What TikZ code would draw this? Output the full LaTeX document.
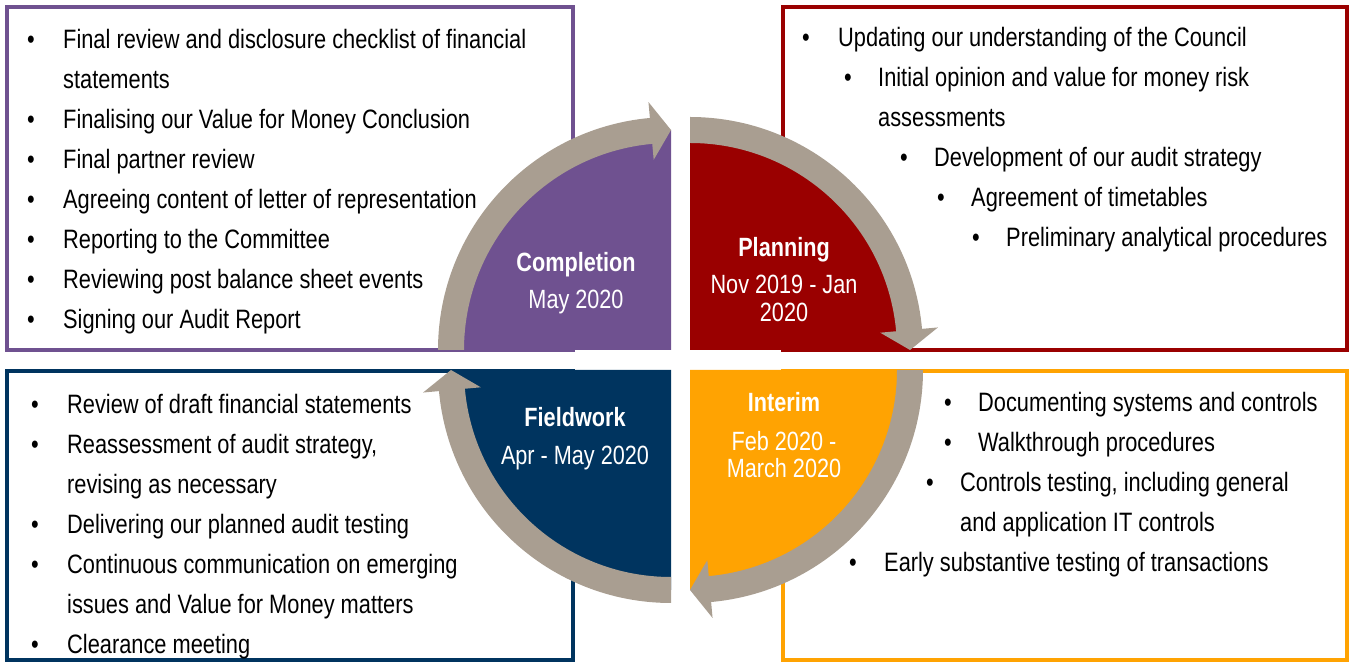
\documentclass[tikz,border=0pt]{standalone}
\usepackage{fontspec}
\setmainfont{Liberation Sans}[FakeStretch=0.82]
\usetikzlibrary{calc}
\definecolor{cPurple}{HTML}{6F5190}
\definecolor{cRed}{HTML}{9A0000}
\definecolor{cOrange}{HTML}{FFA302}
\definecolor{cNavy}{HTML}{00345F}
\definecolor{cRing}{HTML}{A99E91}
\newcommand{\ringarrow}[2]{%
  \pgfmathsetmacro\raEnd{#2-90}%
  \pgfmathsetmacro\raBase{#2-84.8}%
  \fill[cRing] ($(#1)+(#2:233pt)$) arc[start angle=#2, end angle=\raBase, radius=233pt]
    -- ($(#1)+(\raBase:249pt)$) -- ($(#1)+(\raEnd:220pt)$) -- ($(#1)+(\raBase:191pt)$)
    -- ($(#1)+(\raBase:207pt)$) arc[start angle=\raBase, end angle=#2, radius=207pt] -- cycle;}
\tikzset{
  box/.style={line width=4pt},
  txt/.style={anchor=base west, inner sep=0pt, font=\fontsize{26.6pt}{40pt}\selectfont},
  bul/.style={anchor=base, inner sep=0pt, font=\fontsize{26.6pt}{40pt}\selectfont},
  qhead/.style={anchor=base, inner sep=0pt, text=white, font=\fontsize{26.4pt}{30pt}\selectfont\bfseries},
  qdate/.style={anchor=base, inner sep=0pt, text=white, font=\fontsize{26.4pt}{30pt}\selectfont},
}
\begin{document}
\begin{tikzpicture}[x=1pt,y=1pt]
\useasboundingbox (0,0) rectangle (1354,663);
% boxes
\draw[box, cPurple] (7,656) rectangle (573,313);
\draw[box, cRed] (783,656) rectangle (1347,313);
\draw[box, cOrange] (783,292) rectangle (1347,3);
\draw[box, cNavy] (7,292) rectangle (573,3);
% quadrant corners
\coordinate (P) at (671,313);
\coordinate (R) at (690,313);
\coordinate (O) at (690,293);
\coordinate (N) at (671,293);
% quadrants
\fill[cPurple] (P) -- ($(P)+(180:220pt)$) arc[start angle=180, end angle=90, radius=220pt] -- cycle;
\fill[cRed] (R) -- ($(R)+(90:220pt)$) arc[start angle=90, end angle=0, radius=220pt] -- cycle;
\fill[cOrange] (O) -- ($(O)+(0:220pt)$) arc[start angle=0, end angle=-90, radius=220pt] -- cycle;
\fill[cNavy] (N) -- ($(N)+(-90:220pt)$) arc[start angle=-90, end angle=-180, radius=220pt] -- cycle;
% ring arrows
\ringarrow{P}{180}
\ringarrow{R}{90}
\ringarrow{O}{0}
\ringarrow{N}{-90}
% quadrant labels
\node[qhead] (qc) at (576,391) {Completion};
\node[qdate] (qcd) at (576,354) {May 2020};
\node[qhead] (qp) at (784,406) {Planning};
\node[qdate] (qpd1) at (784,369) {Nov 2019 - Jan};
\node[qdate] (qpd2) at (784,341) {2020};
\node[qhead] (qi) at (784,251) {Interim};
\node[qdate] (qid1) at (784,212) {Feb 2020 -};
\node[qdate] (qid2) at (784,185) {March 2020};
\node[qhead] (qf) at (575,236) {Fieldwork};
\node[qdate] (qfd) at (575,198) {Apr - May 2020};
% purple box text
\node[bul] (pb1) at (31,614) {•};
\node[txt] (pt1) at (63,614) {Final review and disclosure checklist of financial};
\node[txt] (pt1b) at (63,574) {statements};
\node[bul] (pb2) at (31,534) {•};
\node[txt] (pt2) at (63,534) {Finalising our Value for Money Conclusion};
\node[bul] (pb3) at (31,494) {•};
\node[txt] (pt3) at (63,494) {Final partner review};
\node[bul] (pb4) at (31,454) {•};
\node[txt] (pt4) at (63,454) {Agreeing content of letter of representation};
\node[bul] (pb5) at (31,414) {•};
\node[txt] (pt5) at (63,414) {Reporting to the Committee};
\node[bul] (pb6) at (31,374) {•};
\node[txt] (pt6) at (63,374) {Reviewing post balance sheet events};
\node[bul] (pb7) at (31,334) {•};
\node[txt] (pt7) at (63,334) {Signing our Audit Report};
% red box text
\node[bul] (rb1) at (806,616) {•};
\node[txt] (rt1) at (838,616) {Updating our understanding of the Council};
\node[bul] (rb2) at (848,576) {•};
\node[txt] (rt2) at (878,576) {Initial opinion and value for money risk};
\node[txt] (rt2b) at (878,536) {assessments};
\node[bul] (rb3) at (904,496) {•};
\node[txt] (rt3) at (934,496) {Development of our audit strategy};
\node[bul] (rb4) at (941,456) {•};
\node[txt] (rt4) at (971,456) {Agreement of timetables};
\node[bul] (rb5) at (976,416) {•};
\node[txt] (rt5) at (1006,416) {Preliminary analytical procedures};
% orange box text
\node[bul] (ob1) at (948,251) {•};
\node[txt] (ot1) at (978,251) {Documenting systems and controls};
\node[bul] (ob2) at (948,211) {•};
\node[txt] (ot2) at (978,211) {Walkthrough procedures};
\node[bul] (ob3) at (930,171) {•};
\node[txt] (ot3) at (960,171) {Controls testing, including general};
\node[txt] (ot3b) at (960,131) {and application IT controls};
\node[bul] (ob4) at (853,91) {•};
\node[txt] (ot4) at (884,91) {Early substantive testing of transactions};
% navy box text
\node[bul] (nb1) at (35,249) {•};
\node[txt] (nt1) at (67,249) {Review of draft financial statements};
\node[bul] (nb2) at (35,209) {•};
\node[txt] (nt2) at (67,209) {Reassessment of audit strategy,};
\node[txt] (nt2b) at (67,169) {revising as necessary};
\node[bul] (nb3) at (35,129) {•};
\node[txt] (nt3) at (67,129) {Delivering our planned audit testing};
\node[bul] (nb4) at (35,89) {•};
\node[txt] (nt4) at (67,89) {Continuous communication on emerging};
\node[txt] (nt4b) at (67,49) {issues and Value for Money matters};
\node[bul] (nb5) at (35,9) {•};
\node[txt] (nt5) at (67,9) {Clearance meeting};
\end{tikzpicture}
\end{document}
